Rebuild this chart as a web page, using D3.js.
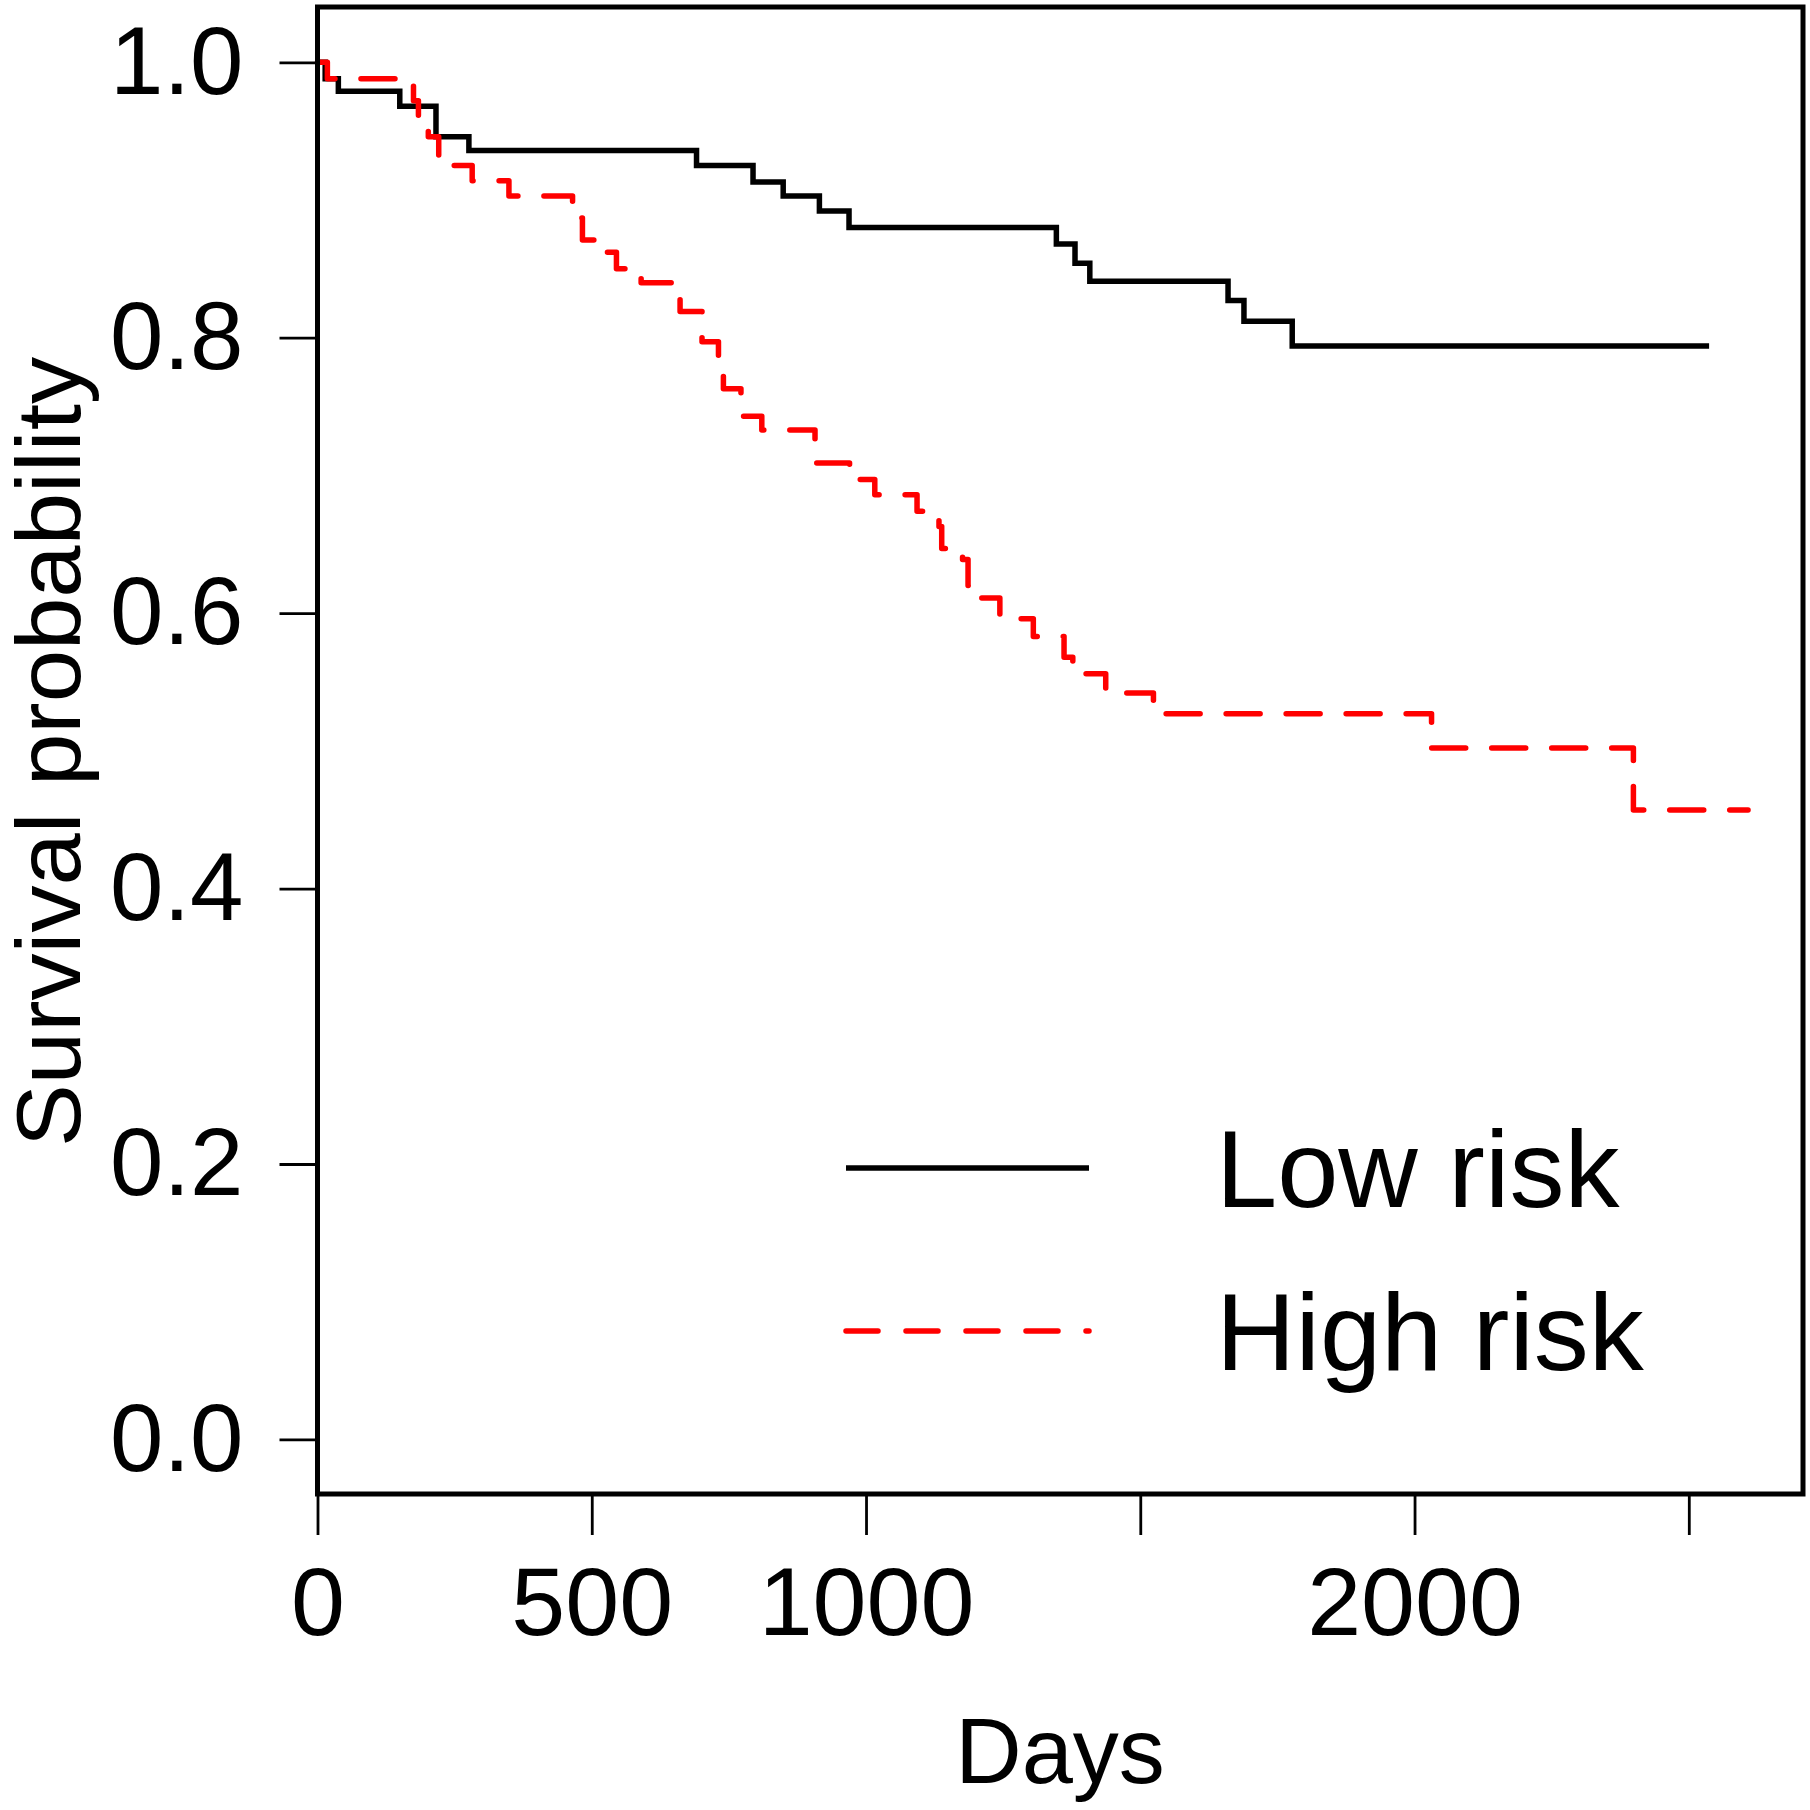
<!DOCTYPE html>
<html>
<head>
<meta charset="utf-8">
<script src="https://cdn.jsdelivr.net/npm/d3@7"></script>
<style>
  html, body { margin: 0; padding: 0; background: #fff; }
  svg { display: block; }
  text { font-family: "Liberation Sans", Arial, sans-serif; fill: #000; }
</style>
</head>
<body>
<script>
// ---------------- data ----------------
const lowDays  = [0, 14, 38, 150, 216, 276, 691, 794, 849, 915, 969, 1347, 1381, 1408, 1660, 1689, 1777, 2537];
const lowSurv  = [1.0, 0.988, 0.979, 0.968, 0.946, 0.936, 0.925, 0.913, 0.903, 0.892, 0.880, 0.868, 0.854, 0.841, 0.827, 0.812, 0.794, 0.794];

const highDays = [0, 18, 175, 184, 202, 221, 282, 349, 465, 483, 512, 545, 590, 661, 701, 731, 740, 772, 810, 907, 970, 1016, 1093, 1133, 1138, 1176, 1186, 1205, 1244, 1305, 1361, 1377, 1437, 1524, 2031, 2399, 2608];
const highSurv = [1.0, 0.988, 0.972, 0.955, 0.946, 0.925, 0.914, 0.903, 0.887, 0.871, 0.862, 0.850, 0.840, 0.819, 0.797, 0.781, 0.763, 0.743, 0.733, 0.709, 0.697, 0.686, 0.674, 0.663, 0.647, 0.639, 0.620, 0.611, 0.596, 0.583, 0.568, 0.556, 0.542, 0.527, 0.502, 0.457, 0.457];

const xTicks = [0, 500, 1000, 1500, 2000, 2500];
const xTickLabels = ["0", "500", "1000", "", "2000", ""];
const yTicks = [0, 0.2, 0.4, 0.6, 0.8, 1.0];
const yTickLabels = ["0.0", "0.2", "0.4", "0.6", "0.8", "1.0"];
const seriesNames = ["Low risk", "High risk"];
const seriesColors = ["#000000", "#ff0000"];
const xTitle = "Days";
const yTitle = "Survival probability";

// ---------------- layout ----------------
const W = 1810, H = 1810;
const frame = { left: 317.5, right: 1803, top: 7, bottom: 1494 };

const x = d3.scaleLinear().domain([0, 2500]).range([317.5, 1688.8]);
const y = d3.scaleLinear().domain([0, 1]).range([1439.4, 62.3]);

const svg = d3.select("body").append("svg").attr("width", W).attr("height", H);
svg.append("rect").attr("width", W).attr("height", H).attr("fill", "#fff");

// curves
const line = d3.line().x(d => x(d[0])).y(d => y(d[1])).curve(d3.curveStepAfter);
const lowData = lowDays.map((d, i) => [d, lowSurv[i]]);
const highData = highDays.map((d, i) => [d, highSurv[i]]);

svg.append("path").datum(lowData).attr("d", line)
  .attr("fill", "none").attr("stroke", seriesColors[0]).attr("stroke-width", 5.5)
  .attr("stroke-linejoin", "miter").attr("stroke-linecap", "butt");
svg.append("path").datum(highData).attr("d", line)
  .attr("fill", "none").attr("stroke", seriesColors[1]).attr("stroke-width", 5.5)
  .attr("stroke-dasharray", "34,26").attr("stroke-linecap", "round").attr("stroke-linejoin", "round");

// frame
svg.append("rect")
  .attr("x", frame.left).attr("y", frame.top)
  .attr("width", frame.right - frame.left).attr("height", frame.bottom - frame.top)
  .attr("fill", "none").attr("stroke", "#000").attr("stroke-width", 5);

// x axis
const xAxis = d3.axisBottom(x).tickValues(xTicks)
  .tickFormat((d, i) => xTickLabels[i]).tickSize(41).tickPadding(31);
const gx = svg.append("g").attr("transform", `translate(0,${frame.bottom})`).call(xAxis);
gx.select(".domain").remove();
gx.selectAll(".tick line").attr("stroke", "#000").attr("stroke-width", 2.8);
gx.selectAll(".tick text").attr("font-size", 97).attr("font-family", "Liberation Sans, Arial, sans-serif")
  .attr("fill", "#000");

// y axis
const yAxis = d3.axisLeft(y).tickValues(yTicks)
  .tickFormat((d, i) => yTickLabels[i]).tickSize(38).tickPadding(36);
const gy = svg.append("g").attr("transform", `translate(${frame.left},0)`).call(yAxis);
gy.select(".domain").remove();
gy.selectAll(".tick line").attr("stroke", "#000").attr("stroke-width", 2.8);
gy.selectAll(".tick text").attr("font-size", 96).attr("font-family", "Liberation Sans, Arial, sans-serif")
  .attr("fill", "#000");

// axis titles
svg.append("text").attr("x", 1060).attr("y", 1783).attr("text-anchor", "middle")
  .attr("font-size", 92).text(xTitle);
svg.append("text").attr("transform", "translate(80,752) rotate(-90)").attr("text-anchor", "middle")
  .attr("font-size", 90).attr("textLength", 790).attr("lengthAdjust", "spacingAndGlyphs").text(yTitle);

// legend
const legY = [1168, 1331];
seriesNames.forEach((name, i) => {
  const l = svg.append("line").attr("x1", 846).attr("x2", 1089).attr("y1", legY[i]).attr("y2", legY[i])
    .attr("stroke", seriesColors[i]).attr("stroke-width", 5.5);
  if (i === 1) l.attr("stroke-dasharray", "32,28").attr("stroke-linecap", "round");
  svg.append("text").attr("x", 1216).attr("y", legY[i] + 39).attr("font-size", 110).text(name);
});
</script>
</body>
</html>
